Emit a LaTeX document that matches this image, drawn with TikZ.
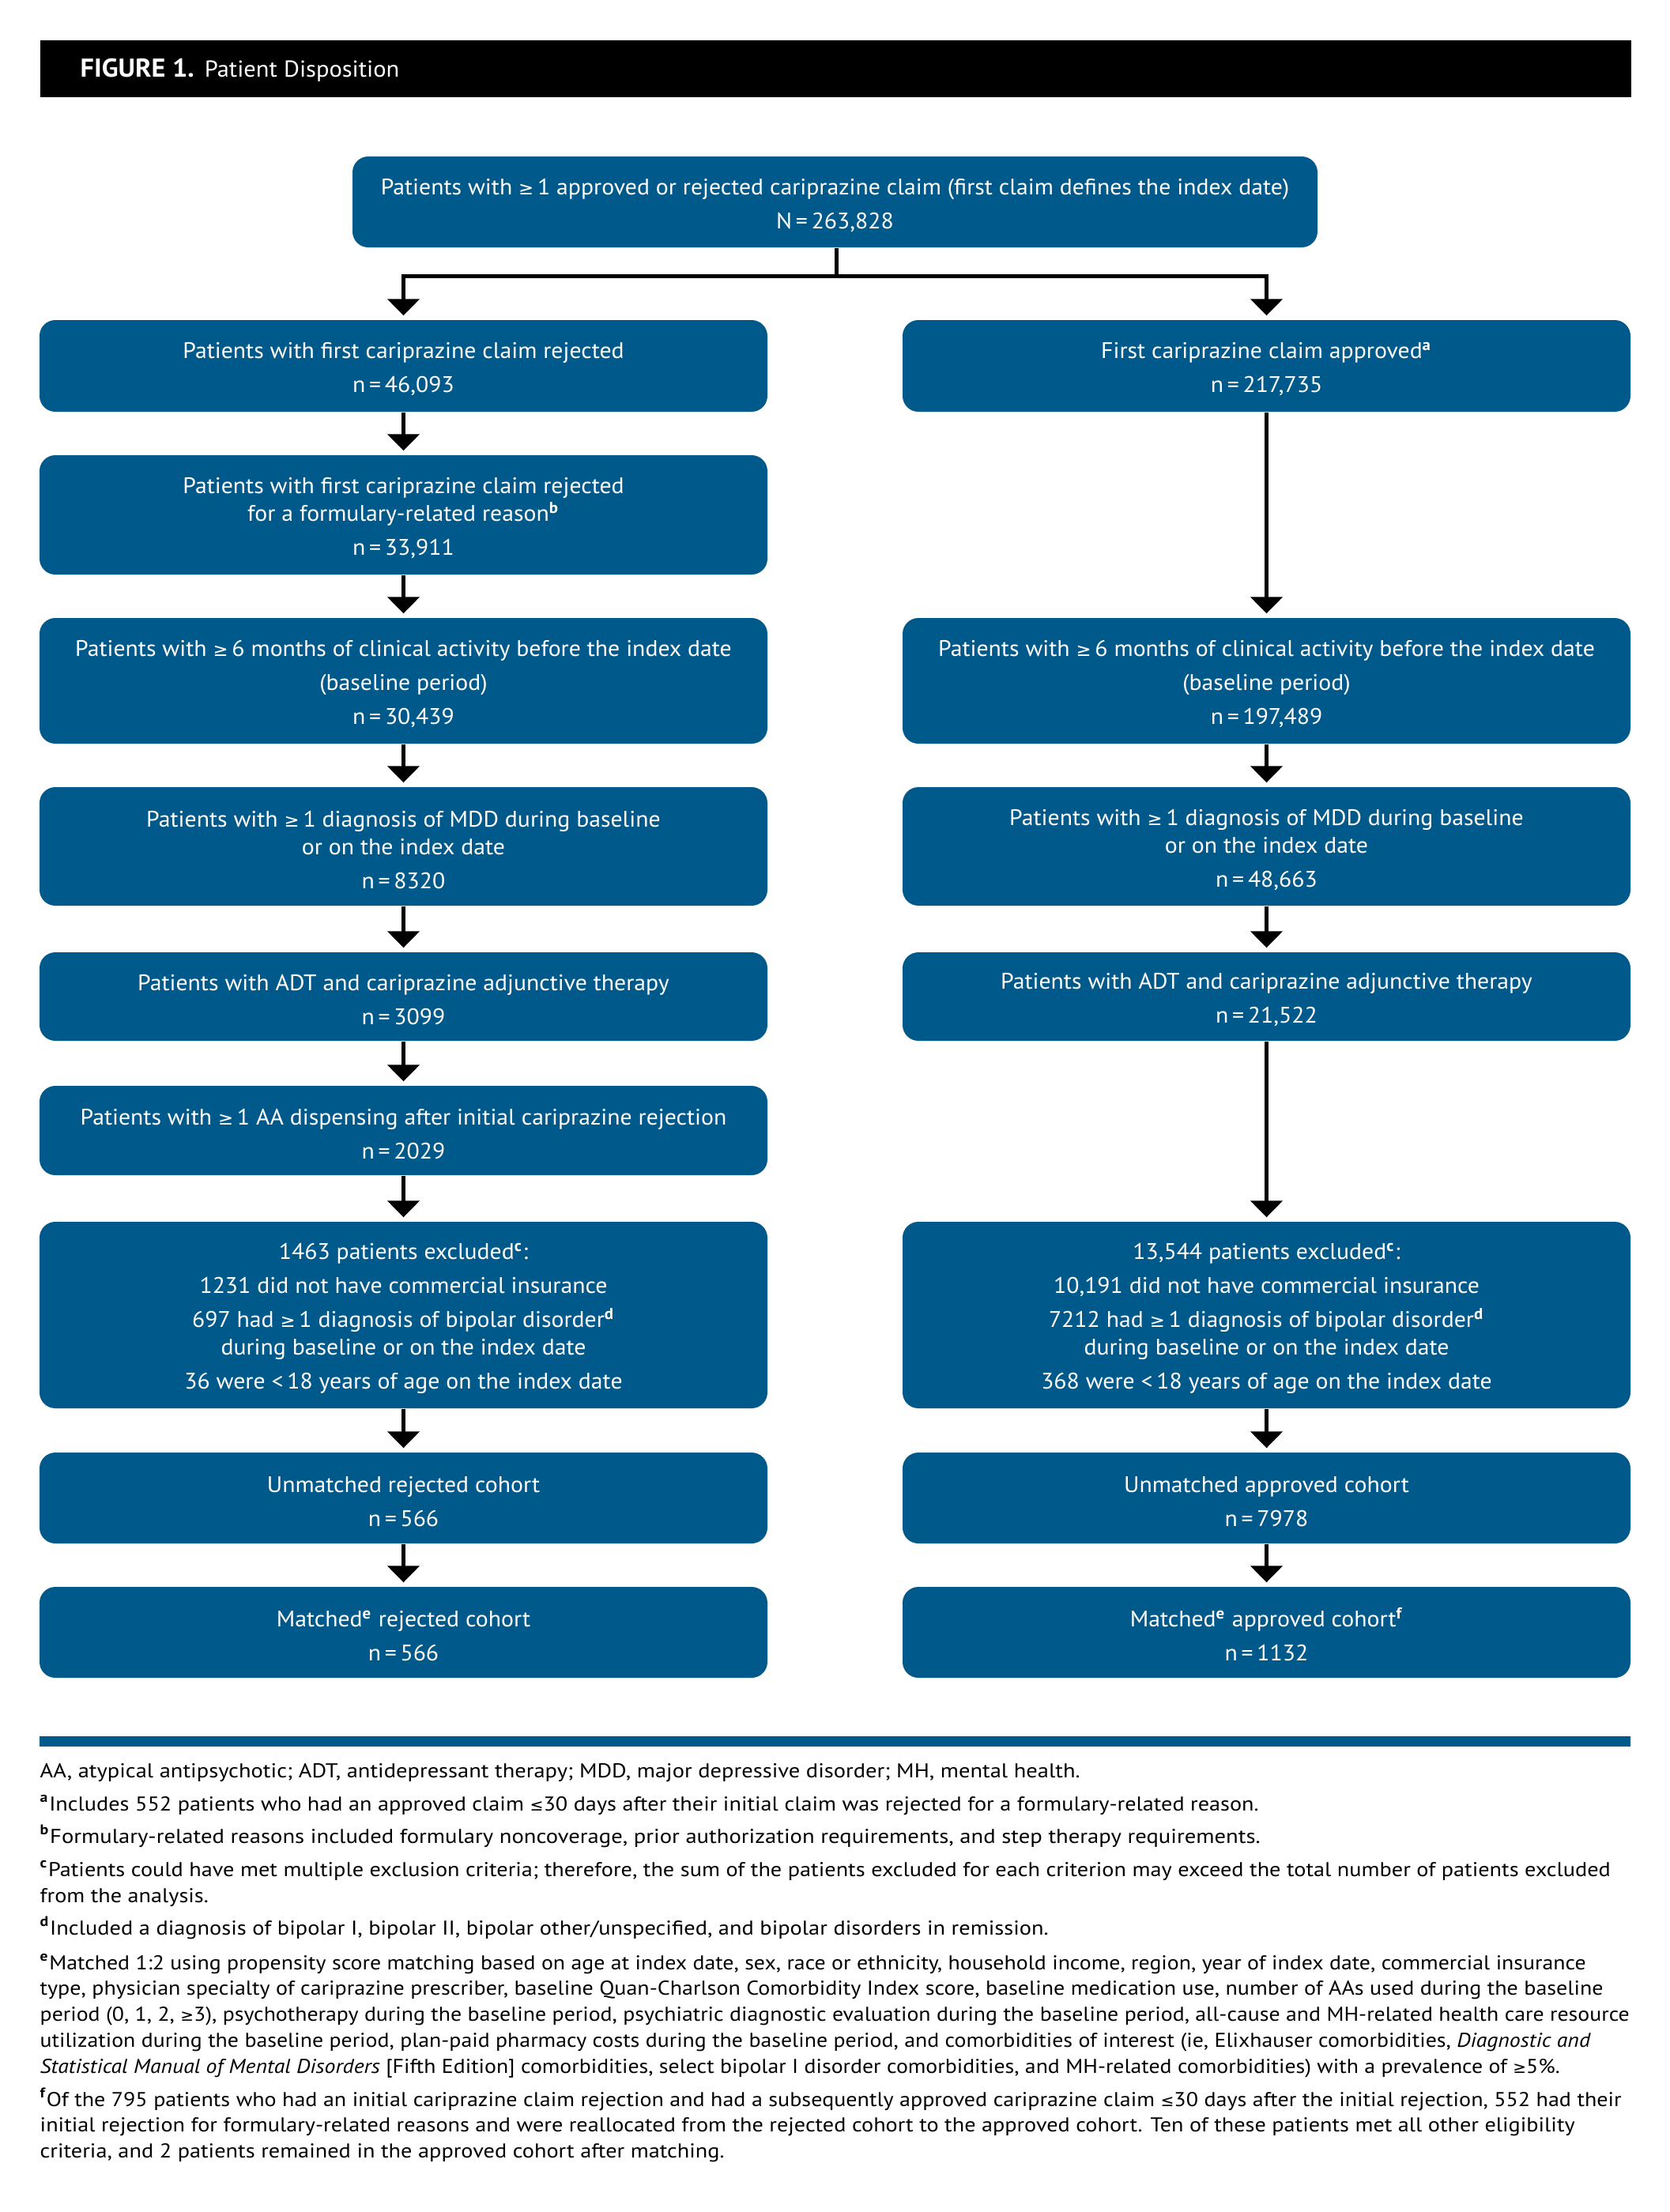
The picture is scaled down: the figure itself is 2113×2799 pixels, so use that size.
\documentclass[tikz,border=0pt]{standalone}
\usepackage{fontspec}
\usepackage{graphicx}
\setmainfont{PT Sans}
\newfontfamily\boxf{PT Sans}[FakeStretch=1.045]
\newfontfamily\fnf{PT Sans}[FakeStretch=1.115]
\newfontfamily\symf{DejaVu Sans}[Scale=0.8]
\usetikzlibrary{arrows.meta}
\definecolor{boxblue}{RGB}{0,89,139}
\newcommand\GEQ{{\symf ≥}}
\newcommand\LEQ{{\symf ≤}}
\newcommand\supr[1]{\textsuperscript{\bfseries #1}}
\newcommand\pg{\\[0.8mm]}
\newcommand\boxfont{\boxf\fontsize{8.1}{9.96}\selectfont\lineskiplimit=-20pt\relax\lineskip=0pt\relax}
\newcommand\tstrut{\rule{0pt}{2.85mm}}
\newcommand\fl[2]{\resizebox{#1}{\height}{#2}}
\tikzset{
  box/.style={fill=boxblue, rounded corners=2mm, text=white, align=center,
    minimum width=92.1mm, inner sep=0pt, font=\boxfont},
  arr/.style={line width=0.5mm, -{Triangle[width=4mm,length=2.1mm]}, shorten >=0.5mm},
  conn/.style={line width=0.5mm},
  fn/.style={anchor=base west, inner sep=0pt, font=\fnf\fontsize{7.2}{8}\selectfont}
}
\begin{document}
\begin{tikzpicture}[x=0.1mm,y=-0.1mm]
\useasboundingbox (0,0) rectangle (2113,2799);
\fill[white] (0,0) rectangle (2113,2799);
% header
\node[fill=black, minimum width=201.3mm, minimum height=7.2mm, inner sep=0pt, anchor=north west] (hdr) at (50,50) {};
\node[anchor=base west, inner sep=0pt, text=white, font=\boxf] (title) at (101,97) {{\fontsize{9.3}{10}\selectfont\bfseries FIGURE 1.} {\fontsize{8.3}{10}\selectfont Patient Disposition}};
% boxes
\node[box, minimum width=122.1mm, minimum height=11.5mm] (top) at (1056.5,255.5)
  {\tstrut Patients with \GEQ\,1 approved or rejected cariprazine claim (first claim defines the index date)\pg N\,=\,263,828};
\node[box, minimum height=11.6mm] (L1) at (510.5,463) {\tstrut Patients with first cariprazine claim rejected\pg n\,=\,46,093};
\node[box, minimum height=11.6mm] (R1) at (1602.5,463) {\tstrut First cariprazine claim approved\supr{a}\pg n\,=\,217,735};
\node[box, minimum height=15.1mm] (L2) at (510.5,651.5) {\tstrut Patients with first cariprazine claim rejected\\for a formulary-related reason\supr{b}\pg n\,=\,33,911};
\node[box, minimum height=15.9mm] (L3) at (510.5,861.5) {\tstrut Patients with \GEQ\,6 months of clinical activity before the index date\pg (baseline period)\pg n\,=\,30,439};
\node[box, minimum height=15.9mm] (R3) at (1602.5,861.5) {\tstrut Patients with \GEQ\,6 months of clinical activity before the index date\pg (baseline period)\pg n\,=\,197,489};
\node[box, minimum height=15.0mm] (L4) at (510.5,1071) {\tstrut Patients with \GEQ\,1 diagnosis of MDD during baseline\\or on the index date\pg n\,=\,8320};
\node[box, minimum height=15.0mm] (R4) at (1602.5,1071) {\tstrut Patients with \GEQ\,1 diagnosis of MDD during baseline\\or on the index date\pg n\,=\,48,663};
\node[box, minimum height=11.2mm] (L5) at (510.5,1261) {\tstrut Patients with ADT and cariprazine adjunctive therapy\pg n\,=\,3099};
\node[box, minimum height=11.2mm] (R5) at (1602.5,1261) {\tstrut Patients with ADT and cariprazine adjunctive therapy\pg n\,=\,21,522};
\node[box, minimum height=11.3mm] (L6) at (510.5,1430.5) {\tstrut Patients with \GEQ\,1 AA dispensing after initial cariprazine rejection\pg n\,=\,2029};
\node[box, minimum height=23.6mm] (L7) at (510.5,1664) {\tstrut 1463 patients excluded\supr{c}:\pg 1231 did not have commercial insurance\pg 697 had \GEQ\,1 diagnosis of bipolar disorder\supr{d}\\during baseline or on the index date\pg 36 were <\,18 years of age on the index date};
\node[box, minimum height=23.6mm] (R7) at (1602.5,1664) {\tstrut 13,544 patients excluded\supr{c}:\pg 10,191 did not have commercial insurance\pg 7212 had \GEQ\,1 diagnosis of bipolar disorder\supr{d}\\during baseline or on the index date\pg 368 were <\,18 years of age on the index date};
\node[box, minimum height=11.5mm] (L8) at (510.5,1895.5) {\tstrut Unmatched rejected cohort\pg n\,=\,566};
\node[box, minimum height=11.5mm] (R8) at (1602.5,1895.5) {\tstrut Unmatched approved cohort\pg n\,=\,7978};
\node[box, minimum height=11.5mm] (L9) at (510.5,2065.5) {\tstrut Matched\supr{e} rejected cohort\pg n\,=\,566};
\node[box, minimum height=11.5mm] (R9) at (1602.5,2065.5) {\tstrut Matched\supr{e} approved cohort\supr{f}\pg n\,=\,1132};
% connectors
\coordinate (jn) at (1058,349);
\draw[conn] (top.south -| jn) -- (jn);
\draw[arr] (jn) -| (L1.north);
\draw[arr] (jn) -| (R1.north);
\draw[arr] (L1) -- (L2);
\draw[arr] (L2) -- (L3);
\draw[arr] (L3) -- (L4);
\draw[arr] (L4) -- (L5);
\draw[arr] (L5) -- (L6);
\draw[arr] (L6) -- (L7);
\draw[arr] (L7) -- (L8);
\draw[arr] (L8) -- (L9);
\draw[arr] (R1) -- (R3);
\draw[arr] (R3) -- (R4);
\draw[arr] (R4) -- (R5);
\draw[arr] (R5) -- (R7);
\draw[arr] (R7) -- (R8);
\draw[arr] (R8) -- (R9);
% rule
\fill[boxblue] (50,2197) rectangle (2063,2210);
% footnotes
\node[fn] (f1) at (50,2249) {\fl{131.6mm}{AA, atypical antipsychotic; ADT, antidepressant therapy; MDD, major depressive disorder; MH, mental health.}};
\node[fn] (f2) at (50,2291) {\fl{154.2mm}{\supr{a}Includes 552 patients who had an approved claim \LEQ30 days after their initial claim was rejected for a formulary-related reason.}};
\node[fn] (f3) at (50,2332) {\fl{154.4mm}{\supr{b}Formulary-related reasons included formulary noncoverage, prior authorization requirements, and step therapy requirements.}};
\node[fn] (f4) at (50,2374) {\fl{198.7mm}{\supr{c}Patients could have met multiple exclusion criteria; therefore, the sum of the patients excluded for each criterion may exceed the total number of patients excluded}};
\node[fn] (f4b) at (50,2407) {from the analysis.};
\node[fn] (f5) at (50,2448) {\fl{127.6mm}{\supr{d}Included a diagnosis of bipolar I, bipolar II, bipolar other/unspecified, and bipolar disorders in remission.}};
\node[fn] (f6) at (50,2492) {\fl{195.6mm}{\supr{e}Matched 1:2 using propensity score matching based on age at index date, sex, race or ethnicity, household income, region, year of index date, commercial insurance}};
\node[fn] (f6b) at (50,2524) {\fl{197.8mm}{type, physician specialty of cariprazine prescriber, baseline Quan-Charlson Comorbidity Index score, baseline medication use, number of AAs used during the baseline}};
\node[fn] (f6c) at (50,2557) {\fl{201.1mm}{period (0, 1, 2, \GEQ3), psychotherapy during the baseline period, psychiatric diagnostic evaluation during the baseline period, all-cause and MH-related health care resource}};
\node[fn] (f6d) at (50,2590) {\fl{196.2mm}{utilization during the baseline period, plan-paid pharmacy costs during the baseline period, and comorbidities of interest (ie, Elixhauser comorbidities, \textit{Diagnostic and}}};
\node[fn] (f6e) at (50,2623) {\fl{192.3mm}{\textit{Statistical Manual of Mental Disorders} [Fifth Edition] comorbidities, select bipolar I disorder comorbidities, and MH-related comorbidities) with a prevalence of \GEQ5\%.}};
\node[fn] (f7) at (50,2665) {\fl{200.1mm}{\supr{f}Of the 795 patients who had an initial cariprazine claim rejection and had a subsequently approved cariprazine claim \LEQ30 days after the initial rejection, 552 had their}};
\node[fn] (f7b) at (50,2697) {\fl{194.2mm}{initial rejection for formulary-related reasons and were reallocated from the rejected cohort to the approved cohort. Ten of these patients met all other eligibility}};
\node[fn] (f7c) at (50,2730) {\fl{86.6mm}{criteria, and 2 patients remained in the approved cohort after matching.}};
\end{tikzpicture}
\end{document}
